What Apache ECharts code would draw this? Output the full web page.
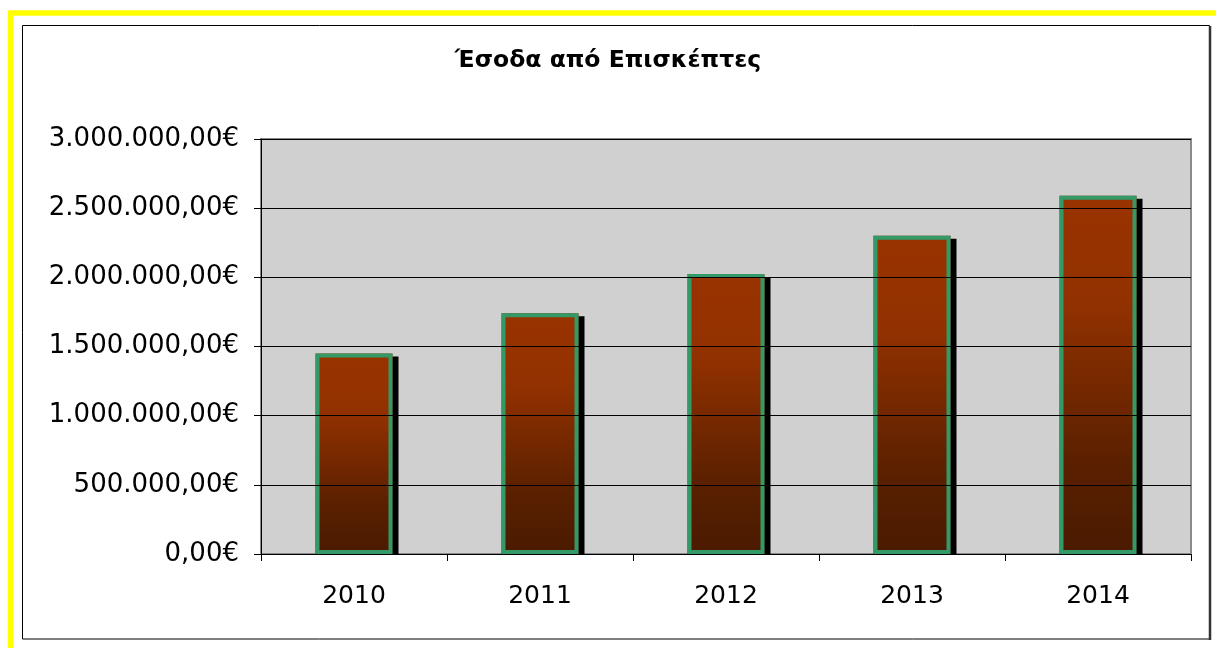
<!DOCTYPE html>
<html>
<head>
<meta charset="utf-8">
<script src="https://cdn.jsdelivr.net/npm/echarts@6/dist/echarts.min.js"></script>
<style>
  html, body { margin: 0; padding: 0; background: #ffffff; }
  #chart { width: 1216px; height: 648px; }
</style>
</head>
<body>
<div id="chart"></div>
<script>
const titleText = 'Έσοδα από Επισκέπτες';
const categories = ['2010', '2011', '2012', '2013', '2014'];
const revenue = [1450000, 1740000, 2025000, 2300000, 2590000];
const yMin = 0;
const yMax = 3000000;
const yStep = 500000;

function formatEuro(v) {
  const fixed = Math.abs(v).toFixed(2);
  const parts = fixed.split('.');
  const intPart = parts[0].replace(/\B(?=(\d{3})+(?!\d))/g, '.');
  return (v < 0 ? '-' : '') + intPart + ',' + parts[1] + '€';
}

const chart = echarts.init(document.getElementById('chart'), null, { renderer: 'canvas' });
const font = '"DejaVu Sans", "Liberation Sans", Arial, sans-serif';

chart.setOption({
  backgroundColor: '#ffffff',
  animation: false,
  title: {
    text: titleText,
    left: 'center',
    top: 49,
    padding: [0, 0, 0, 9],
    textStyle: { fontFamily: font, fontSize: 23.5, fontWeight: 'bold', color: '#000000' }
  },
  graphic: [
    { type: 'rect', silent: true, z: -10,
      shape: { x: 10.5, y: 13, width: 1400, height: 800 },
      style: { fill: null, stroke: '#ffff00', lineWidth: 5.5 } },
    { type: 'rect', silent: true, z: -9,
      shape: { x: 22.5, y: 25.5, width: 1187, height: 613.5 },
      style: { fill: null, stroke: '#000000', lineWidth: 1 } },
    { type: 'line', silent: true, z: -9,
      shape: { x1: 1210, y1: 26, x2: 1210, y2: 640 },
      style: { stroke: '#333333', lineWidth: 2.5 } },
    // white strip hiding the bar shadow overflow below the category axis
    { type: 'rect', silent: true, z: 3,
      shape: { x: 262, y: 554.5, width: 929, height: 6 },
      style: { fill: '#ffffff' } }
  ],
  grid: {
    left: 261, right: 25, top: 139, bottom: 94,
    show: true,
    backgroundColor: '#d0d0d0',
    borderColor: '#8a8a8a',
    borderWidth: 2
  },
  xAxis: {
    type: 'category',
    data: categories,
    z: 6,
    axisLine: { show: true, lineStyle: { color: '#000000', width: 1 } },
    axisTick: { show: true, length: 7, alignWithLabel: false, interval: 0, lineStyle: { color: '#000000' } },
    axisLabel: { margin: 30, fontFamily: font, fontSize: 25, color: '#000000' },
    splitLine: { show: false }
  },
  yAxis: {
    type: 'value',
    min: yMin,
    max: yMax,
    interval: yStep,
    z: 6,
    axisLine: { show: true, lineStyle: { color: '#000000', width: 1 } },
    axisTick: { show: true, length: 7, lineStyle: { color: '#000000' } },
    axisLabel: { margin: 22, fontFamily: font, fontSize: 26, color: '#000000', formatter: formatEuro },
    splitLine: { show: true, lineStyle: { color: '#000000', width: 1 } }
  },
  series: [{
    type: 'bar',
    data: revenue,
    barWidth: 77,
    barGap: '-100%',
    z: 2,
    itemStyle: {
      color: new echarts.graphic.LinearGradient(0, 0, 0, 1, [
        { offset: 0, color: '#993300' },
        { offset: 0.3, color: '#923100' },
        { offset: 0.75, color: '#5a2000' },
        { offset: 1, color: '#4a1a00' }
      ]),
      shadowColor: '#000000',
      shadowBlur: 0,
      shadowOffsetX: 6,
      shadowOffsetY: 3
    }
  }, {
    type: 'bar',
    data: revenue,
    barWidth: 77,
    barGap: '-100%',
    z: 2,
    itemStyle: {
      color: 'rgba(0,0,0,0)',
      borderColor: '#339966',
      borderWidth: 4
    }
  }]
});
</script>
</body>
</html>
